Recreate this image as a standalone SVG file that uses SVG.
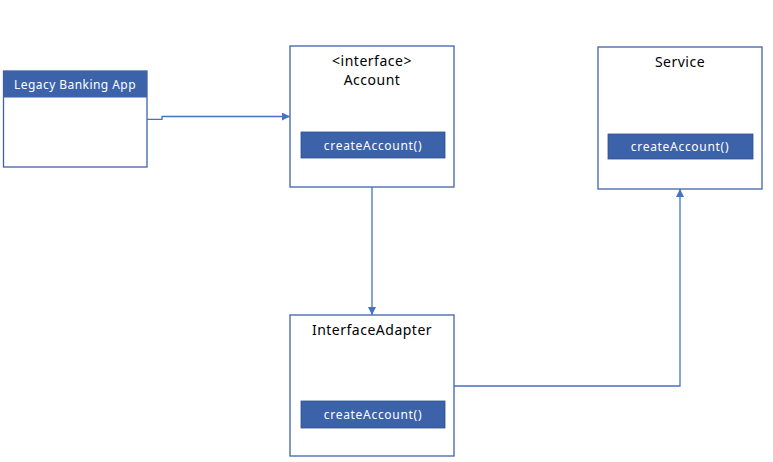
<svg xmlns="http://www.w3.org/2000/svg" width="773" height="462" viewBox="0 0 773 462">
<style>
.box{fill:#fff;stroke:#3f62a6;stroke-width:1.3}
.bar{fill:#3c62aa;stroke:#2f528f;stroke-width:0.8}
.t{font-family:"Noto Sans","Open Sans",sans-serif;font-size:14px;letter-spacing:0.5px;fill:#000;text-anchor:middle}
.w{font-family:"Noto Sans","Open Sans",sans-serif;font-size:12px;letter-spacing:0.7px;fill:#fff;text-anchor:middle}
.l{font-family:"Noto Sans","Open Sans",sans-serif;font-size:12px;letter-spacing:0.45px;fill:#fff;text-anchor:middle}
.c{fill:none;stroke:#4472c4;stroke-width:1.3}
</style>
<defs>
<marker id="arr" viewBox="0 0 10 10" refX="10" refY="5" markerWidth="8" markerHeight="8" markerUnits="userSpaceOnUse" orient="auto">
<path d="M0,0 L10,5 L0,10 z" fill="#4472c4"/>
</marker>
</defs>
<rect width="773" height="462" fill="#fff"/>
<g id="legacy">
<rect class="box" x="3.5" y="71" width="143.5" height="96"/>
<rect x="3.5" y="71" width="143.5" height="26.5" fill="#3c62aa"/>
<text class="l" x="75" y="89">Legacy Banking App</text>
</g>
<g id="account">
<rect class="box" x="290" y="46" width="164" height="141"/>
<text class="t" x="372" y="66">&lt;interface&gt;</text>
<text class="t" x="372" y="85">Account</text>
<rect class="bar" x="301" y="132" width="144" height="26"/>
<text class="w" x="373" y="149.5">createAccount()</text>
</g>
<g id="service">
<rect class="box" x="598" y="47" width="164" height="142"/>
<text class="t" x="680" y="67">Service</text>
<rect class="bar" x="608" y="134" width="145" height="25"/>
<text class="w" x="680" y="151">createAccount()</text>
</g>
<g id="adapter">
<rect class="box" x="290" y="315" width="164" height="141"/>
<text class="t" x="372" y="335">InterfaceAdapter</text>
<rect class="bar" x="301" y="401" width="144" height="27"/>
<text class="w" x="373" y="418.5">createAccount()</text>
</g>
<g id="connectors">
<path class="c" d="M147,119.3 H162 V116.5 H290" marker-end="url(#arr)"/>
<path class="c" d="M372,187 V315" marker-end="url(#arr)"/>
<path class="c" d="M454,386 H680 V189" marker-end="url(#arr)"/>
</g>
</svg>
